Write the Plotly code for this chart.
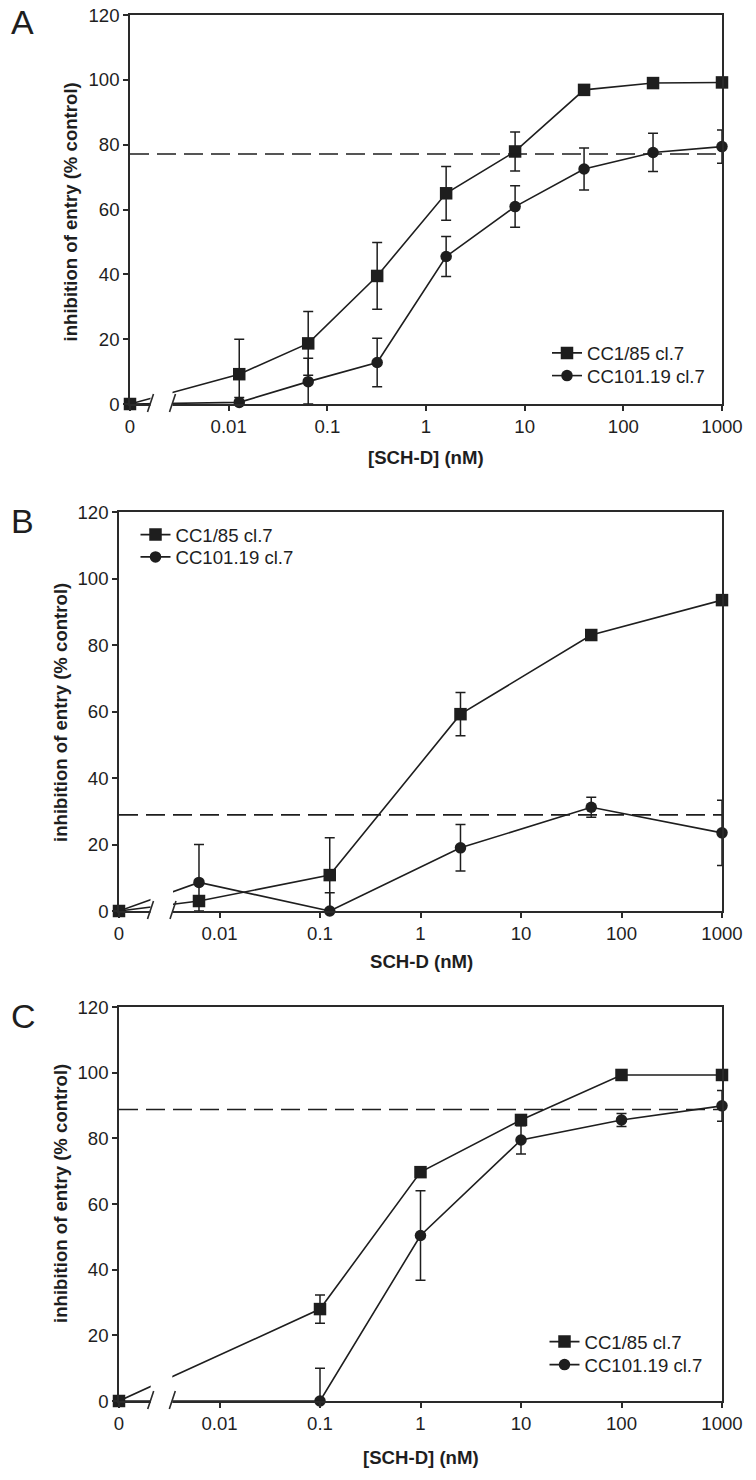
import plotly.graph_objects as go

# ---------------- data ----------------
series_names = ["CC1/85 cl.7", "CC101.19 cl.7"]
y_title = "inhibition of entry (% control)"
x_titles = ["[SCH-D] (nM)", "SCH-D (nM)", "[SCH-D] (nM)"]
panel_letters = ["A", "B", "C"]

y_tickvals = [0, 20, 40, 60, 80, 100, 120]
x_tickvals = [0.001, 0.01, 0.1, 1, 10, 100, 1000]
x_ticktext = ["0", "0.01", "0.1", "1", "10", "100", "1000"]
ZERO_POS = 0.001   # where the "0" concentration is drawn on the broken log axis

# Panel A
conc_A = [0, 0.0128, 0.064, 0.32, 1.6, 8, 40, 200, 1000]
sq_A = [0, 9.2, 18.7, 39.5, 65.0, 77.9, 96.9, 99.0, 99.2]
sq_A_err = [0, 10.8, 9.8, 10.3, 8.3, 6.0, 0, 0, 0]
ci_A = [0, 0.5, 6.9, 12.8, 45.5, 60.9, 72.5, 77.6, 79.4]
ci_A_err = [0, 1.5, 7.2, 7.5, 6.2, 6.4, 6.5, 5.9, 5.1]

# Panel B
conc_B = [0, 0.00625, 0.125, 2.5, 50, 1000]
sq_B = [0, 3.0, 10.8, 59.2, 83.0, 93.5]
sq_B_err = [0, 1.5, 11.2, 6.5, 1.0, 0]
ci_B = [0, 8.6, 0, 19.0, 31.2, 23.5]
ci_B_err = [0, 11.4, 5.5, 7.0, 3.0, 9.8]

# Panel C
conc_C = [0, 0.1, 1, 10, 100, 1000]
sq_C = [0, 28.0, 69.7, 85.6, 99.3, 99.3]
sq_C_err = [0, 4.3, 0, 1.5, 0, 0]
ci_C = [0, 0, 50.4, 79.5, 85.6, 89.9]
ci_C_err = [0, 10.0, 13.6, 4.3, 2.0, 4.7]

thresholds = [77.1, 28.9, 88.8]

# ---------------- layout geometry ----------------
W, H = 756, 1480
FONT = "Liberation Sans, Arial, sans-serif"
INK = "#1e1e1e"
FRAME = "#2a2a2a"
FS = 18.6
LFS = 18.6

# plot areas in pixels: (left, right, top, bottom)
areas = [(130, 722, 15, 404), (119, 722, 512, 911), (119, 722, 1007, 1401)]
# axis break (slash centres) in pixels
breaks = [(150.5, 172.5), (150.5, 173.0), (150.7, 172.3)]
ytitle_pos = [(70.5, 212), (60, 713), (60.5, 1193.5)]
xtitle_pos = [(426, 457), (421.5, 961.7), (421, 1457.7)]
letter_pos = [(22.5, 22), (22.5, 521), (23.5, 1016)]
# legend: x of the sample line start, y centres of the two rows
legend_x = [547, 135.5, 544.5]
legend_rows = [(353.3, 376), (535, 557.3), (1342, 1365)]

panels = [
    (conc_A, sq_A, sq_A_err, ci_A, ci_A_err),
    (conc_B, sq_B, sq_B_err, ci_B, ci_B_err),
    (conc_C, sq_C, sq_C_err, ci_C, ci_C_err),
]

fig = go.Figure()
shapes = []
annotations = []
layout = dict(
    template="none",
    width=W, height=H,
    margin=dict(l=0, r=0, t=0, b=0, autoexpand=False),
    paper_bgcolor="white", plot_bgcolor="white",
    font=dict(family=FONT, size=FS, color=INK),
    showlegend=True,
)

def px_x(p):
    return p / W

def px_y(p):
    return 1 - p / H

for i, (conc, sq, sq_err, ci, ci_err) in enumerate(panels):
    n = i + 1
    ov = i + 4
    xs = "" if n == 1 else str(n)
    l, r, t, b = areas[i]
    xdom = [px_x(l), px_x(r)]
    ydom = [px_y(b), px_y(t)]
    xpos = [c if c > 0 else ZERO_POS for c in conc]

    for j, (name, vals, err, sym, size) in enumerate([
        (series_names[0], sq, sq_err, "square", 12.5),
        (series_names[1], ci, ci_err, "circle", 11.5),
    ]):
        k = 2 * i + j + 1
        legend_id = "legend" if k == 1 else f"legend{k}"
        fig.add_trace(go.Scatter(
            x=xpos, y=vals, mode="lines+markers", name=name,
            xaxis=f"x{xs}", yaxis=f"y{xs}", legend=legend_id,
            line=dict(color=INK, width=1.6),
            marker=dict(symbol=sym, size=size, color=INK, line=dict(width=0)),
            error_y=dict(type="data", array=err,
                         arrayminus=[min(e, v) for e, v in zip(err, vals)],
                         color=INK, thickness=1.5, width=5, visible=True),
            cliponaxis=False,
        ))
        layout[legend_id] = dict(
            x=px_x(legend_x[i]), y=px_y(legend_rows[i][j]),
            xanchor="left", yanchor="middle",
            bgcolor="rgba(0,0,0,0)", borderwidth=0,
            font=dict(size=LFS, family=FONT, color=INK),
            tracegroupgap=0, itemwidth=30,
        )

    axis_common = dict(showgrid=False, zeroline=False, automargin=False)
    layout[f"xaxis{xs}"] = dict(
        **axis_common, domain=xdom, anchor=f"y{xs}", type="log", range=[-3, 3],
        tickmode="array", tickvals=x_tickvals, ticktext=x_ticktext,
        ticks="outside", ticklen=5, tickwidth=1.5, tickcolor=FRAME,
        showline=True, linewidth=1.5, linecolor=FRAME, mirror=True,
        tickfont=dict(size=FS, color=INK, family=FONT),
    )
    layout[f"yaxis{xs}"] = dict(
        **axis_common, domain=ydom, anchor=f"x{xs}", range=[0, 120],
        tickmode="array", tickvals=y_tickvals,
        ticks="outside", ticklen=5, tickwidth=1.5, tickcolor=FRAME,
        showline=True, linewidth=1.5, linecolor=FRAME, mirror=True,
        tickfont=dict(size=FS, color=INK, family=FONT),
    )
    # overlay axes providing the inward half of the crossing tick marks
    layout[f"xaxis{ov}"] = dict(
        **axis_common, overlaying=f"x{xs}", anchor=f"y{xs}", type="log", range=[-3, 3],
        tickmode="array", tickvals=x_tickvals, showticklabels=False,
        ticks="inside", ticklen=5, tickwidth=1.5, tickcolor=FRAME, showline=False,
    )
    layout[f"yaxis{ov}"] = dict(
        **axis_common, overlaying=f"y{xs}", anchor=f"x{xs}", range=[0, 120],
        tickmode="array", tickvals=y_tickvals, showticklabels=False,
        ticks="inside", ticklen=5, tickwidth=1.5, tickcolor=FRAME, showline=False,
    )

    # threshold dashed line
    shapes.append(dict(type="line", xref=f"x{xs} domain", x0=0, x1=1,
                       yref=f"y{xs}", y0=thresholds[i], y1=thresholds[i],
                       line=dict(color=INK, width=1.6, dash="19px,8px"), layer="above"))

    # axis break: white gap + two slashes
    b0 = (breaks[i][0] - l) / (r - l)
    b1 = (breaks[i][1] - l) / (r - l)
    shapes.append(dict(type="rect", xref=f"x{xs} domain", yref=f"y{xs} domain",
                       x0=b0, x1=b1, y0=-0.025, y1=0.11,
                       fillcolor="white", line=dict(width=0), layer="above"))
    for bx in (b0, b1):
        shapes.append(dict(type="line", xref=f"x{xs} domain", yref=f"y{xs} domain",
                           xsizemode="pixel", xanchor=bx, x0=-3, x1=3,
                           ysizemode="pixel", yanchor=0, y0=-8, y1=10,
                           line=dict(color=FRAME, width=1.6), layer="above"))

    # titles and panel letter
    yx, yy = ytitle_pos[i]
    annotations.append(dict(text=f"<b>{y_title}</b>", xref="paper", yref="paper",
                            x=px_x(yx), y=px_y(yy), showarrow=False, textangle=-90,
                            xanchor="center", yanchor="middle",
                            font=dict(size=FS, family=FONT, color=INK)))
    xx, xy = xtitle_pos[i]
    annotations.append(dict(text=f"<b>{x_titles[i]}</b>", xref="paper", yref="paper",
                            x=px_x(xx), y=px_y(xy), showarrow=False,
                            xanchor="center", yanchor="middle",
                            font=dict(size=FS, family=FONT, color=INK)))
    lx, ly = letter_pos[i]
    annotations.append(dict(text=panel_letters[i], xref="paper", yref="paper",
                            x=px_x(lx), y=px_y(ly), showarrow=False,
                            xanchor="center", yanchor="middle",
                            font=dict(size=34, family=FONT, color=INK)))

layout["shapes"] = shapes
layout["annotations"] = annotations
fig.update_layout(**layout)

fig.write_html("out.html", config={"displayModeBar": False},
               post_script="document.body.style.margin='0px';")
